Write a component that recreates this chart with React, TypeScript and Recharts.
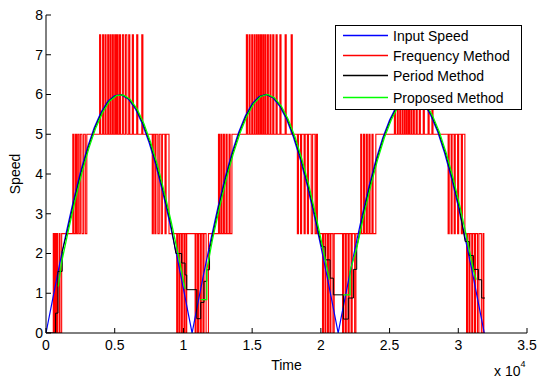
import { LineChart, Line, XAxis, YAxis, Legend, Label } from 'recharts';

document.body.style.margin = '0';

const FONT = '"Liberation Sans", Arial, Helvetica, sans-serif';

// time is in units of 10^4 (see the "x 10^4" note under the axis)
const xTicks = [0, 0.5, 1, 1.5, 2, 2.5, 3, 3.5];
const yTicks = [0, 1, 2, 3, 4, 5, 6, 7, 8];

// Input Speed
const inputTime = [
  0, 0.05, 0.1, 0.15, 0.2, 0.25, 0.3, 0.35, 0.4, 0.45, 0.5, 0.55, 0.6, 0.65, 0.7, 0.75, 0.8, 0.85, 0.9, 0.95, 1.0, 1.05, 1.063,
  1.1, 1.15, 1.2, 1.25, 1.3, 1.35, 1.4, 1.45, 1.5, 1.55, 1.6, 1.65, 1.7, 1.75, 1.8, 1.85, 1.9, 1.95, 2.0, 2.05, 2.1, 2.126,
  2.15, 2.2, 2.25, 2.3, 2.35, 2.4, 2.45, 2.5, 2.55, 2.6, 2.65, 2.7, 2.75, 2.8, 2.85, 2.9, 2.95, 3.0, 3.05, 3.1, 3.15, 3.189,
];
const inputSpeed = [
  0, 0.88, 1.75, 2.57, 3.34, 4.04, 4.65, 5.16, 5.55, 5.83, 5.97, 5.99, 5.88, 5.64, 5.27, 4.79, 4.21, 3.53, 2.78, 1.97, 1.11, 0.23, 0,
  0.66, 1.53, 2.36, 3.15, 3.87, 4.5, 5.03, 5.46, 5.77, 5.95, 6.0, 5.92, 5.71, 5.38, 4.93, 4.37, 3.72, 2.98, 2.18, 1.34, 0.46, 0,
  0.43, 1.3, 2.15, 2.95, 3.69, 4.35, 4.91, 5.36, 5.7, 5.91, 6.0, 5.95, 5.78, 5.47, 5.06, 4.53, 3.9, 3.18, 2.39, 1.56, 0.69, 0,
];

// Frequency Method: jumps between two neighbouring levels at these times
const freqBursts = [
  { lo: 0, hi: 2.5, toggles: [0.053, 0.058, 0.066, 0.071, 0.079, 0.085, 0.097, 0.102, 0.114] },
  { lo: 2.5, hi: 5, toggles: [0.195, 0.203, 0.214, 0.222, 0.231, 0.24, 0.25, 0.262, 0.274, 0.286, 0.297] },
  { lo: 5, hi: 7.5, toggles: [0.39, 0.398, 0.412, 0.42, 0.431, 0.437, 0.449, 0.456, 0.466, 0.474, 0.484, 0.49, 0.5, 0.508, 0.516, 0.524, 0.534, 0.542, 0.556, 0.565, 0.578, 0.588, 0.602, 0.61, 0.628, 0.636, 0.66, 0.668, 0.697, 0.705] },
  { lo: 2.5, hi: 5, toggles: [0.773, 0.781, 0.792, 0.8, 0.814, 0.824, 0.838, 0.847, 0.866, 0.874, 0.895] },
  { lo: 0, hi: 2.5, toggles: [0.951, 0.958, 0.968, 0.975, 0.986, 0.992, 1.004, 1.01, 1.02, 1.024, 1.085, 1.092, 1.103, 1.11, 1.122, 1.13, 1.142, 1.15, 1.165, 1.182] },
  { lo: 2.5, hi: 5, toggles: [1.255, 1.262, 1.272, 1.279, 1.29, 1.298, 1.31, 1.318, 1.332, 1.34, 1.353] },
  { lo: 5, hi: 7.5, toggles: [1.458, 1.466, 1.478, 1.485, 1.497, 1.503, 1.514, 1.52, 1.53, 1.537, 1.546, 1.552, 1.561, 1.568, 1.577, 1.584, 1.593, 1.6, 1.611, 1.618, 1.63, 1.637, 1.65, 1.658, 1.674, 1.682, 1.702, 1.71, 1.74, 1.748, 1.784, 1.792] },
  { lo: 2.5, hi: 5, toggles: [1.829, 1.837, 1.852, 1.86, 1.878, 1.886, 1.902, 1.91, 1.93, 1.94, 1.958, 1.967, 1.975] },
  { lo: 0, hi: 2.5, toggles: [2.012, 2.019, 2.03, 2.036, 2.048, 2.055, 2.066, 2.073, 2.088, 2.097, 2.158, 2.166, 2.178, 2.185, 2.198, 2.206, 2.22, 2.228, 2.246, 2.255] },
  { lo: 2.5, hi: 5, toggles: [2.29, 2.297, 2.31, 2.318, 2.33, 2.338, 2.35, 2.358, 2.372, 2.38, 2.4] },
  { lo: 5, hi: 7.5, toggles: [2.535, 2.543, 2.556, 2.563, 2.574, 2.58, 2.591, 2.597, 2.607, 2.613, 2.622, 2.629, 2.638, 2.645, 2.655, 2.662, 2.673, 2.68, 2.693, 2.701, 2.716, 2.724, 2.745, 2.753, 2.78, 2.788, 2.808, 2.816] },
  { lo: 2.5, hi: 5, toggles: [2.926, 2.934, 2.948, 2.955, 2.97, 2.978, 2.995, 3.003, 3.022, 3.03, 3.048] },
  { lo: 0, hi: 2.5, toggles: [3.06, 3.067, 3.078, 3.085, 3.098, 3.105, 3.118, 3.126, 3.14, 3.15, 3.168, 3.18, 3.186] },
];
const freqEnd = 3.19;

// Period Method (staircase)
const periodTime = [
  0, 0.07, 0.07, 0.087, 0.087, 0.118, 0.118,
  0.156, 0.206, 0.256, 0.306, 0.356, 0.406, 0.456, 0.506, 0.556, 0.606, 0.656, 0.706, 0.756, 0.806, 0.856, 0.906,
  0.945, 0.987, 0.987, 1.012, 1.012, 1.024, 1.024, 1.097, 1.097, 1.126, 1.126, 1.15, 1.15, 1.17, 1.17, 1.19, 1.19,
  1.256, 1.306, 1.356, 1.406, 1.456, 1.506, 1.556, 1.606, 1.656, 1.706, 1.756, 1.806, 1.856, 1.906, 1.956,
  2.006, 2.031, 2.031, 2.067, 2.067, 2.091, 2.091, 2.164, 2.164, 2.2, 2.2, 2.237, 2.237, 2.261, 2.261,
  2.306, 2.356, 2.406, 2.456, 2.506, 2.556, 2.606, 2.656, 2.706, 2.756, 2.806, 2.856, 2.906, 2.956, 3.006,
  3.05, 3.08, 3.08, 3.11, 3.11, 3.146, 3.146, 3.17, 3.17, 3.194,
];
const periodSpeed = [
  0, 0, 0.5, 0.5, 1.55, 1.55, 2.05,
  2.57, 3.34, 4.04, 4.65, 5.16, 5.55, 5.83, 5.97, 5.99, 5.88, 5.64, 5.27, 4.79, 4.21, 3.53, 2.78,
  2.0, 2.0, 1.76, 1.76, 1.46, 1.46, 1.09, 1.09, 0.36, 0.36, 0.77, 0.77, 1.3, 1.3, 1.59, 1.59, 2.1,
  3.15, 3.87, 4.5, 5.03, 5.46, 5.77, 5.95, 6.0, 5.92, 5.71, 5.38, 4.93, 4.37, 3.72, 2.98,
  2.17, 2.17, 1.84, 1.84, 1.38, 1.38, 0.96, 0.96, 0.35, 0.35, 0.88, 0.88, 1.6, 1.6, 2.15,
  2.95, 3.69, 4.35, 4.91, 5.36, 5.7, 5.91, 6.0, 5.95, 5.78, 5.47, 5.06, 4.53, 3.9, 3.18,
  2.3, 2.3, 1.95, 1.95, 1.6, 1.6, 1.34, 1.34, 0.88, 0.88,
];

// Proposed Method (null = gap near the zero crossings)
const proposedTime = [
  0.09, 0.112, 0.162, 0.212, 0.262, 0.312, 0.362, 0.412, 0.462, 0.512, 0.562, 0.612, 0.662, 0.712, 0.762, 0.812, 0.862, 0.912, 0.962, 1.012,
  1.07, 1.126, 1.17, 1.17,
  1.212, 1.262, 1.312, 1.362, 1.412, 1.462, 1.512, 1.562, 1.612, 1.662, 1.712, 1.762, 1.812, 1.862, 1.912, 1.962, 2.012, 2.062,
  2.11, 2.164, 2.212, 2.212,
  2.262, 2.312, 2.362, 2.412, 2.462, 2.512, 2.562, 2.612, 2.662, 2.712, 2.762, 2.812, 2.862, 2.912, 2.962, 3.012, 3.062, 3.112, 3.13,
];
const proposedSpeed = [
  1.17, 1.75, 2.57, 3.34, 4.04, 4.65, 5.16, 5.55, 5.83, 5.97, 5.99, 5.88, 5.64, 5.27, 4.79, 4.21, 3.53, 2.78, 1.97, 1.11,
  null, 0.84, 0.84, 1.59,
  2.36, 3.15, 3.87, 4.5, 5.03, 5.46, 5.77, 5.95, 6.0, 5.92, 5.71, 5.38, 4.93, 4.37, 3.72, 2.98, 2.18, 1.34,
  null, 0.96, 0.96, 1.55,
  2.15, 2.95, 3.69, 4.35, 4.91, 5.36, 5.7, 5.91, 6.0, 5.95, 5.78, 5.47, 5.06, 4.53, 3.9, 3.18, 2.39, 1.56, 1.34,
];

const toPoints = (ts: number[], vs: (number | null)[]) => ts.map((t, i) => ({ t, v: vs[i] }));

const inputData = toPoints(inputTime, inputSpeed);
const periodData = toPoints(periodTime, periodSpeed);
const proposedData = toPoints(proposedTime, proposedSpeed);

const freqData: { t: number; v: number }[] = [{ t: 0, v: 0 }];
let level = 0;
freqBursts.forEach(b => {
  b.toggles.forEach(t => {
    level = level === b.lo ? b.hi : b.lo;
    freqData.push({ t, v: level });
  });
});
freqData.push({ t: freqEnd, v: level });

const legendItems = [
  { name: 'Input Speed', color: '#0000ff' },
  { name: 'Frequency Method', color: '#ff0000' },
  { name: 'Period Method', color: '#000000' },
  { name: 'Proposed Method', color: '#00ff00' },
];
const legendRowY = [9.5, 29.5, 49.5, 71.5];

const LegendBox = () => (
  <div
    style={{
      position: 'relative',
      boxSizing: 'border-box',
      width: 187,
      height: 85,
      border: '1px solid #000',
      background: '#fff',
      fontFamily: FONT,
      fontSize: 14,
      color: '#000',
    }}
  >
    <svg width={185} height={83} style={{ position: 'absolute', left: 0, top: 0 }}>
      {legendItems.map((item, i) => (
        <g key={item.name}>
          <line x1={7} x2={52} y1={legendRowY[i]} y2={legendRowY[i]} stroke={item.color} strokeWidth={1.6} />
          <text x={57} y={legendRowY[i] + 5} fontSize={14} fontFamily={FONT} fill="#000">
            {item.name}
          </text>
        </g>
      ))}
    </svg>
  </div>
);

const ExponentLabel = (props: any) => {
  const { x, y, width } = props.viewBox;
  return (
    <text x={x + width - 33} y={y + 43} fontSize={14} fontFamily={FONT} fill="#000">
      x 10
      <tspan dy={-9} fontSize={9}>4</tspan>
    </text>
  );
};

const tickStyle = { fill: '#000', fontSize: 14, fontFamily: FONT };

export default function App() {
  return (
    <div style={{ width: 538, height: 380, position: 'relative', fontFamily: FONT, background: '#fff' }}>
      <LineChart width={538} height={380} margin={{ top: 15, right: 11, bottom: 0, left: 0 }}>
        <XAxis
          dataKey="t"
          type="number"
          domain={[0, 3.5]}
          ticks={xTicks}
          height={47}
          tick={tickStyle}
          tickSize={-5}
          tickMargin={12}
          axisLine={{ stroke: '#000' }}
          tickLine={{ stroke: '#000' }}
          allowDataOverflow
        >
          <Label value="Time" position="center" dy={9} fontSize={14} fontFamily={FONT} fill="#000" />
          <Label content={ExponentLabel} />
        </XAxis>
        <XAxis
          xAxisId="top"
          dataKey="t"
          type="number"
          orientation="top"
          domain={[0, 3.5]}
          ticks={xTicks}
          height={0}
          tick={false}
          tickSize={-5}
          axisLine={{ stroke: '#000' }}
          tickLine={{ stroke: '#000' }}
          allowDataOverflow
        />
        <YAxis
          type="number"
          domain={[0, 8]}
          ticks={yTicks}
          width={46}
          tick={tickStyle}
          tickSize={-5}
          tickMargin={8}
          axisLine={{ stroke: '#000' }}
          tickLine={{ stroke: '#000' }}
          allowDataOverflow
        >
          <Label value="Speed" angle={-90} position="center" dx={-8} fontSize={14} fontFamily={FONT} fill="#000" />
        </YAxis>
        <YAxis
          yAxisId="right"
          type="number"
          orientation="right"
          domain={[0, 8]}
          ticks={yTicks}
          width={0}
          tick={false}
          tickSize={-5}
          axisLine={{ stroke: '#000' }}
          tickLine={{ stroke: '#000' }}
          allowDataOverflow
        />
        <Line data={freqData} dataKey="v" type="stepAfter" stroke="#ff0000" strokeWidth={1.1} dot={false} isAnimationActive={false} />
        <Line data={inputData} dataKey="v" type="linear" stroke="#0000ff" strokeWidth={1.2} dot={false} isAnimationActive={false} />
        <Line data={periodData} dataKey="v" type="linear" stroke="#000000" strokeWidth={1} dot={false} isAnimationActive={false} />
        <Line data={proposedData} dataKey="v" type="linear" stroke="#00ff00" strokeWidth={1.3} dot={false} isAnimationActive={false} />
        <Legend
          layout="horizontal"
          verticalAlign="middle"
          align="center"
          wrapperStyle={{ left: 335, top: 25, width: 187, height: 85 }}
          content={() => <LegendBox />}
        />
      </LineChart>
    </div>
  );
}
